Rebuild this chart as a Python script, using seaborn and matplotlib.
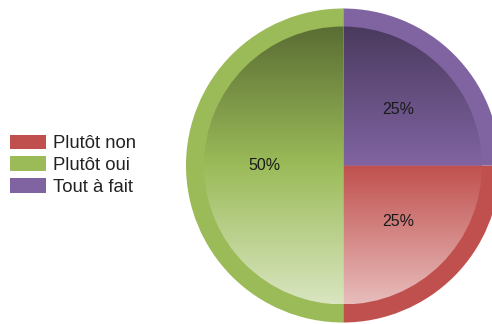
import numpy as np
import matplotlib
matplotlib.use("Agg")
import matplotlib.pyplot as plt
import seaborn as sns
from matplotlib.patches import Patch
from matplotlib.colors import to_rgb

# data
labels = ["Plutôt non", "Plutôt oui", "Tout à fait"]
shares = [25, 50, 25]
colors = ["#C0504D", "#9BBB59", "#8064A2"]

sns.set_theme(style="white")
plt.rcParams["font.family"] = ["Liberation Sans", "DejaVu Sans"]

W, H = 492, 324
fig = plt.figure(figsize=(W / 100, H / 100), dpi=100)
ax = fig.add_axes([0, 0, 1, 1])

cx, cy = 343, H - 165.5
r_out, r_in = 157, 139
palette = sns.color_palette(colors)

# outer ring, solid colours
ax.pie(shares, colors=palette, radius=r_out, center=(cx, cy), startangle=0,
       counterclock=False, wedgeprops={"linewidth": 0})

# inner disc with vertical gradient (dark top -> light bottom)
inner, _ = ax.pie(shares, colors=palette, radius=r_in, center=(cx, cy),
                  startangle=0, counterclock=False, wedgeprops={"linewidth": 0})

n = 300
t = np.linspace(-1, 1, n)[:, None]  # -1 top, 1 bottom
for w, c in zip(inner, palette):
    base = np.array(to_rgb(c))
    dark = base * (1 + 0.42 * np.clip(t, -1, 0))
    light = base + (1 - base) * 0.62 * np.clip(t, 0, 1)
    img = np.where(t < 0, dark, light)
    img = np.repeat(img[:, None, :], 2, axis=1).reshape(n, 2, 3)
    im = ax.imshow(img, extent=(cx - r_in, cx + r_in, cy - r_in, cy + r_in),
                   origin="upper", aspect="auto", zorder=2, interpolation="bilinear")
    im.set_clip_path(w)
    w.set_facecolor("none")

# thin light seam between the left and right halves
ax.plot([cx, cx], [cy - r_out, cy + r_out], color=(1, 1, 1, 0.35), lw=0.6, zorder=4)

# percentage labels
ang0 = 0
for s in shares:
    mid = np.deg2rad(ang0 - s * 3.6 / 2)
    ax.text(cx + 0.5 * r_out * np.cos(mid), cy + 0.5 * r_out * np.sin(mid),
            f"{s}%", ha="center", va="center", fontsize=11.5, color="#1a1a1a", zorder=5)
    ang0 -= s * 3.6

ax.set_xlim(0, W)
ax.set_ylim(0, H)
ax.set_aspect("equal")
ax.axis("off")

handles = [Patch(facecolor=c, edgecolor="none") for c in palette]
fig.legend(handles, labels, loc="center left", bbox_to_anchor=(0.001, 0.49),
           frameon=False, fontsize=13.3, handlelength=1.95, handleheight=0.85,
           handletextpad=0.38, labelspacing=0.22, borderpad=0, labelcolor="#222222")

fig.savefig("out.png", dpi=100)
